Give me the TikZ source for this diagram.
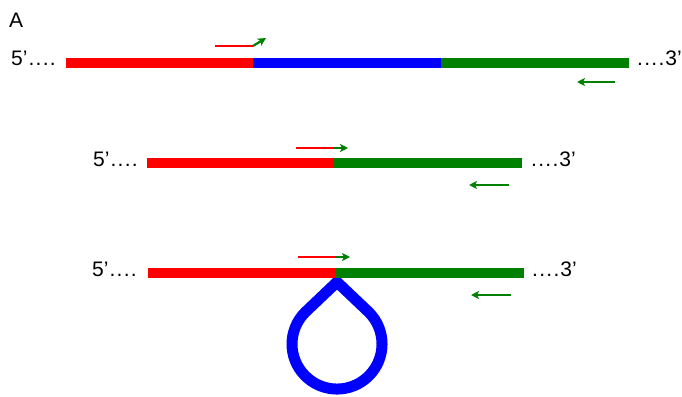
\documentclass[tikz,border=0pt]{standalone}
\usepackage{fontspec}
\setmainfont{Liberation Sans}
\usetikzlibrary{arrows.meta}
\definecolor{dnared}{RGB}{255,0,0}
\definecolor{dnablue}{RGB}{0,0,255}
\definecolor{dnagreen}{RGB}{0,128,0}
\newcommand\spdots{.\kern1.3pt.\kern1.3pt.\kern1.3pt.}
\tikzset{
  bar/.style={line width=10pt, line cap=butt},
  primerline/.style={dnared, line width=2.2pt},
  primerarrow/.style={dnagreen, line width=2.2pt, -{Stealth[length=8pt,width=8pt,inset=2pt]}},
  endlabel/.style={font=\fontsize{21}{25}\selectfont, inner sep=0pt},
  loopstyle/.style={dnablue, line width=11pt, line join=round}
}
\begin{document}
\begin{tikzpicture}[x=1pt,y=-1pt]
\useasboundingbox (0,0) rectangle (682,396);
\node[endlabel, anchor=base west] (lblA) at (9,28) {A};
% Row 1
\coordinate (r1a) at (66,63);
\coordinate (r1b) at (253,63);
\coordinate (r1c) at (441,63);
\coordinate (r1d) at (629,63);
\draw[bar, dnared] (r1a) -- (r1b);
\draw[bar, dnablue] (r1b) -- (r1c);
\draw[bar, dnagreen] (r1c) -- (r1d);
\node[endlabel, anchor=base east] (r1l) at (56,66) {5’\kern1pt\spdots};
\node[endlabel, anchor=base west] (r1r) at (637,66) {\spdots\kern1pt3’};
\coordinate (p1a) at (215,46);
\coordinate (p1b) at (253,46);
\coordinate (p1c) at (266,38);
\draw[primerline] (p1a) -- (p1b);
\draw[primerarrow] (p1b) -- (p1c);
\coordinate (q1a) at (615,82);
\coordinate (q1b) at (577,82);
\draw[primerarrow] (q1a) -- (q1b);
% Row 2
\coordinate (r2a) at (147,163);
\coordinate (r2b) at (334,163);
\coordinate (r2c) at (522,163);
\draw[bar, dnared] (r2a) -- (r2b);
\draw[bar, dnagreen] (r2b) -- (r2c);
\node[endlabel, anchor=base east] (r2l) at (138,166) {5’\kern1pt\spdots};
\node[endlabel, anchor=base west] (r2r) at (531,166) {\spdots\kern1pt3’};
\coordinate (p2a) at (296,148);
\coordinate (p2b) at (334,148);
\coordinate (p2c) at (348,148);
\draw[primerline] (p2a) -- (p2b);
\draw[primerarrow] (p2b) -- (p2c);
\coordinate (q2a) at (509,185);
\coordinate (q2b) at (469,185);
\draw[primerarrow] (q2a) -- (q2b);
% Row 3
\coordinate (r3a) at (148,273);
\coordinate (r3b) at (336,273);
\coordinate (r3c) at (524,273);
\draw[loopstyle] (337,282) -- (369,312.4) arc[start angle=-44.7, end angle=224.7, radius=45] -- cycle;
\draw[bar, dnared] (r3a) -- (r3b);
\draw[bar, dnagreen] (r3b) -- (r3c);
\node[endlabel, anchor=base east] (r3l) at (137,276) {5’\kern1pt\spdots};
\node[endlabel, anchor=base west] (r3r) at (532,276) {\spdots\kern1pt3’};
\coordinate (p3a) at (298,257);
\coordinate (p3b) at (336,257);
\coordinate (p3c) at (350,257);
\draw[primerline] (p3a) -- (p3b);
\draw[primerarrow] (p3b) -- (p3c);
\coordinate (q3a) at (511,295);
\coordinate (q3b) at (471,295);
\draw[primerarrow] (q3a) -- (q3b);
\end{tikzpicture}
\end{document}
